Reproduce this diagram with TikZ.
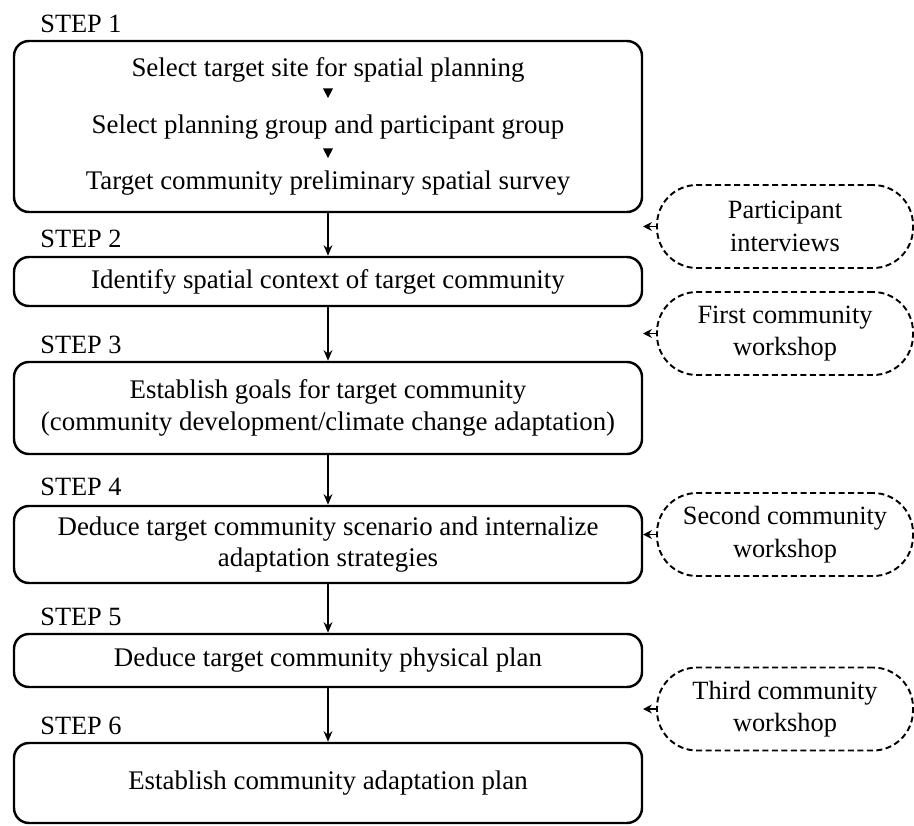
\documentclass[tikz,border=0pt]{standalone}
\usepackage{fontspec}
\setmainfont{Liberation Serif}
\usetikzlibrary{arrows.meta}

\begin{document}
\begin{tikzpicture}
  \useasboundingbox (0,0) rectangle (18.28,-16.52);
  \tikzstyle{stepbox}=[minimum width=12.56cm,rounded corners=0.3cm,draw,line width=1.4pt,align=center,font=\fontsize{15.3}{18}\selectfont]
  \tikzstyle{steplab}=[anchor=base west,inner sep=0pt,font=\fontsize{15}{18}\selectfont]
  \tikzstyle{meet}=[minimum width=5.12cm,minimum height=1.66cm,rounded corners=0.8cm,draw,dash pattern=on 3.4pt off 2pt,line width=1.1pt,align=center,font=\fontsize{15}{18.5}\selectfont]
  \tikzstyle{flow}=[-{Stealth[length=6pt,width=5pt]},line width=1.1pt]
  \tikzstyle{feed}=[-{Stealth[length=5pt,width=5pt]},line width=1.1pt]
  % the six steps
  \node [steplab] (lab1) at (0.8,-0.66) {STEP 1} ;
  \node [stepbox,minimum height=3.42cm] (s1) at (6.56,-2.53) {Select target site for spatial planning\\[14pt]Select planning group and participant group\\[14pt]Target community preliminary spatial survey} ;
  \node [steplab] (lab2) at (0.8,-4.96) {STEP 2} ;
  \node [stepbox,minimum height=0.98cm] (s2) at (6.56,-5.63) {Identify spatial context of target community} ;
  \node [steplab] (lab3) at (0.8,-7.06) {STEP 3} ;
  \node [stepbox,minimum height=1.84cm] (s3) at (6.56,-8.16) {Establish goals for target community\\(community development/climate change adaptation)} ;
  \node [steplab] (lab4) at (0.8,-9.9) {STEP 4} ;
  \node [stepbox,minimum height=1.54cm] (s4) at (6.56,-10.89) {Deduce target community scenario and internalize\\adaptation strategies} ;
  \node [steplab] (lab5) at (0.8,-12.5) {STEP 5} ;
  \node [stepbox,minimum height=1.06cm] (s5) at (6.56,-13.21) {Deduce target community physical plan} ;
  \node [steplab] (lab6) at (0.8,-14.68) {STEP 6} ;
  \node [stepbox,minimum height=1.6cm] (s6) at (6.56,-15.66) {Establish community adaptation plan} ;
  \fill (6.46,-1.77) -- (6.66,-1.77) -- (6.56,-1.96) -- cycle ;
  \fill (6.46,-2.97) -- (6.66,-2.97) -- (6.56,-3.16) -- cycle ;
  % participation
  \node [meet] (interv) at (15.7,-4.53) {Participant\\interviews} ;
  \node [meet] (work1) at (15.7,-6.67) {First community\\workshop} ;
  \node [meet] (work2) at (15.7,-10.69) {Second community\\workshop} ;
  \node [meet] (work3) at (15.7,-14.18) {Third community\\workshop} ;
  \coordinate (in1) at (12.86,-4.53) ;
  \coordinate (in2) at (12.86,-6.67) ;
  \coordinate (in3) at (12.86,-10.69) ;
  \coordinate (in4) at (12.86,-14.18) ;
  \path [flow] (s1) edge (s2) ;
  \path [flow] (s2) edge (s3) ;
  \path [flow] (s3) edge (s4) ;
  \path [flow] (s4) edge (s5) ;
  \path [flow] (s5) edge (s6) ;
  \path [feed] (interv) edge (in1) ;
  \path [feed] (work1) edge (in2) ;
  \path [feed] (work2) edge (in3) ;
  \path [feed] (work3) edge (in4) ;
\end{tikzpicture}
\end{document}
